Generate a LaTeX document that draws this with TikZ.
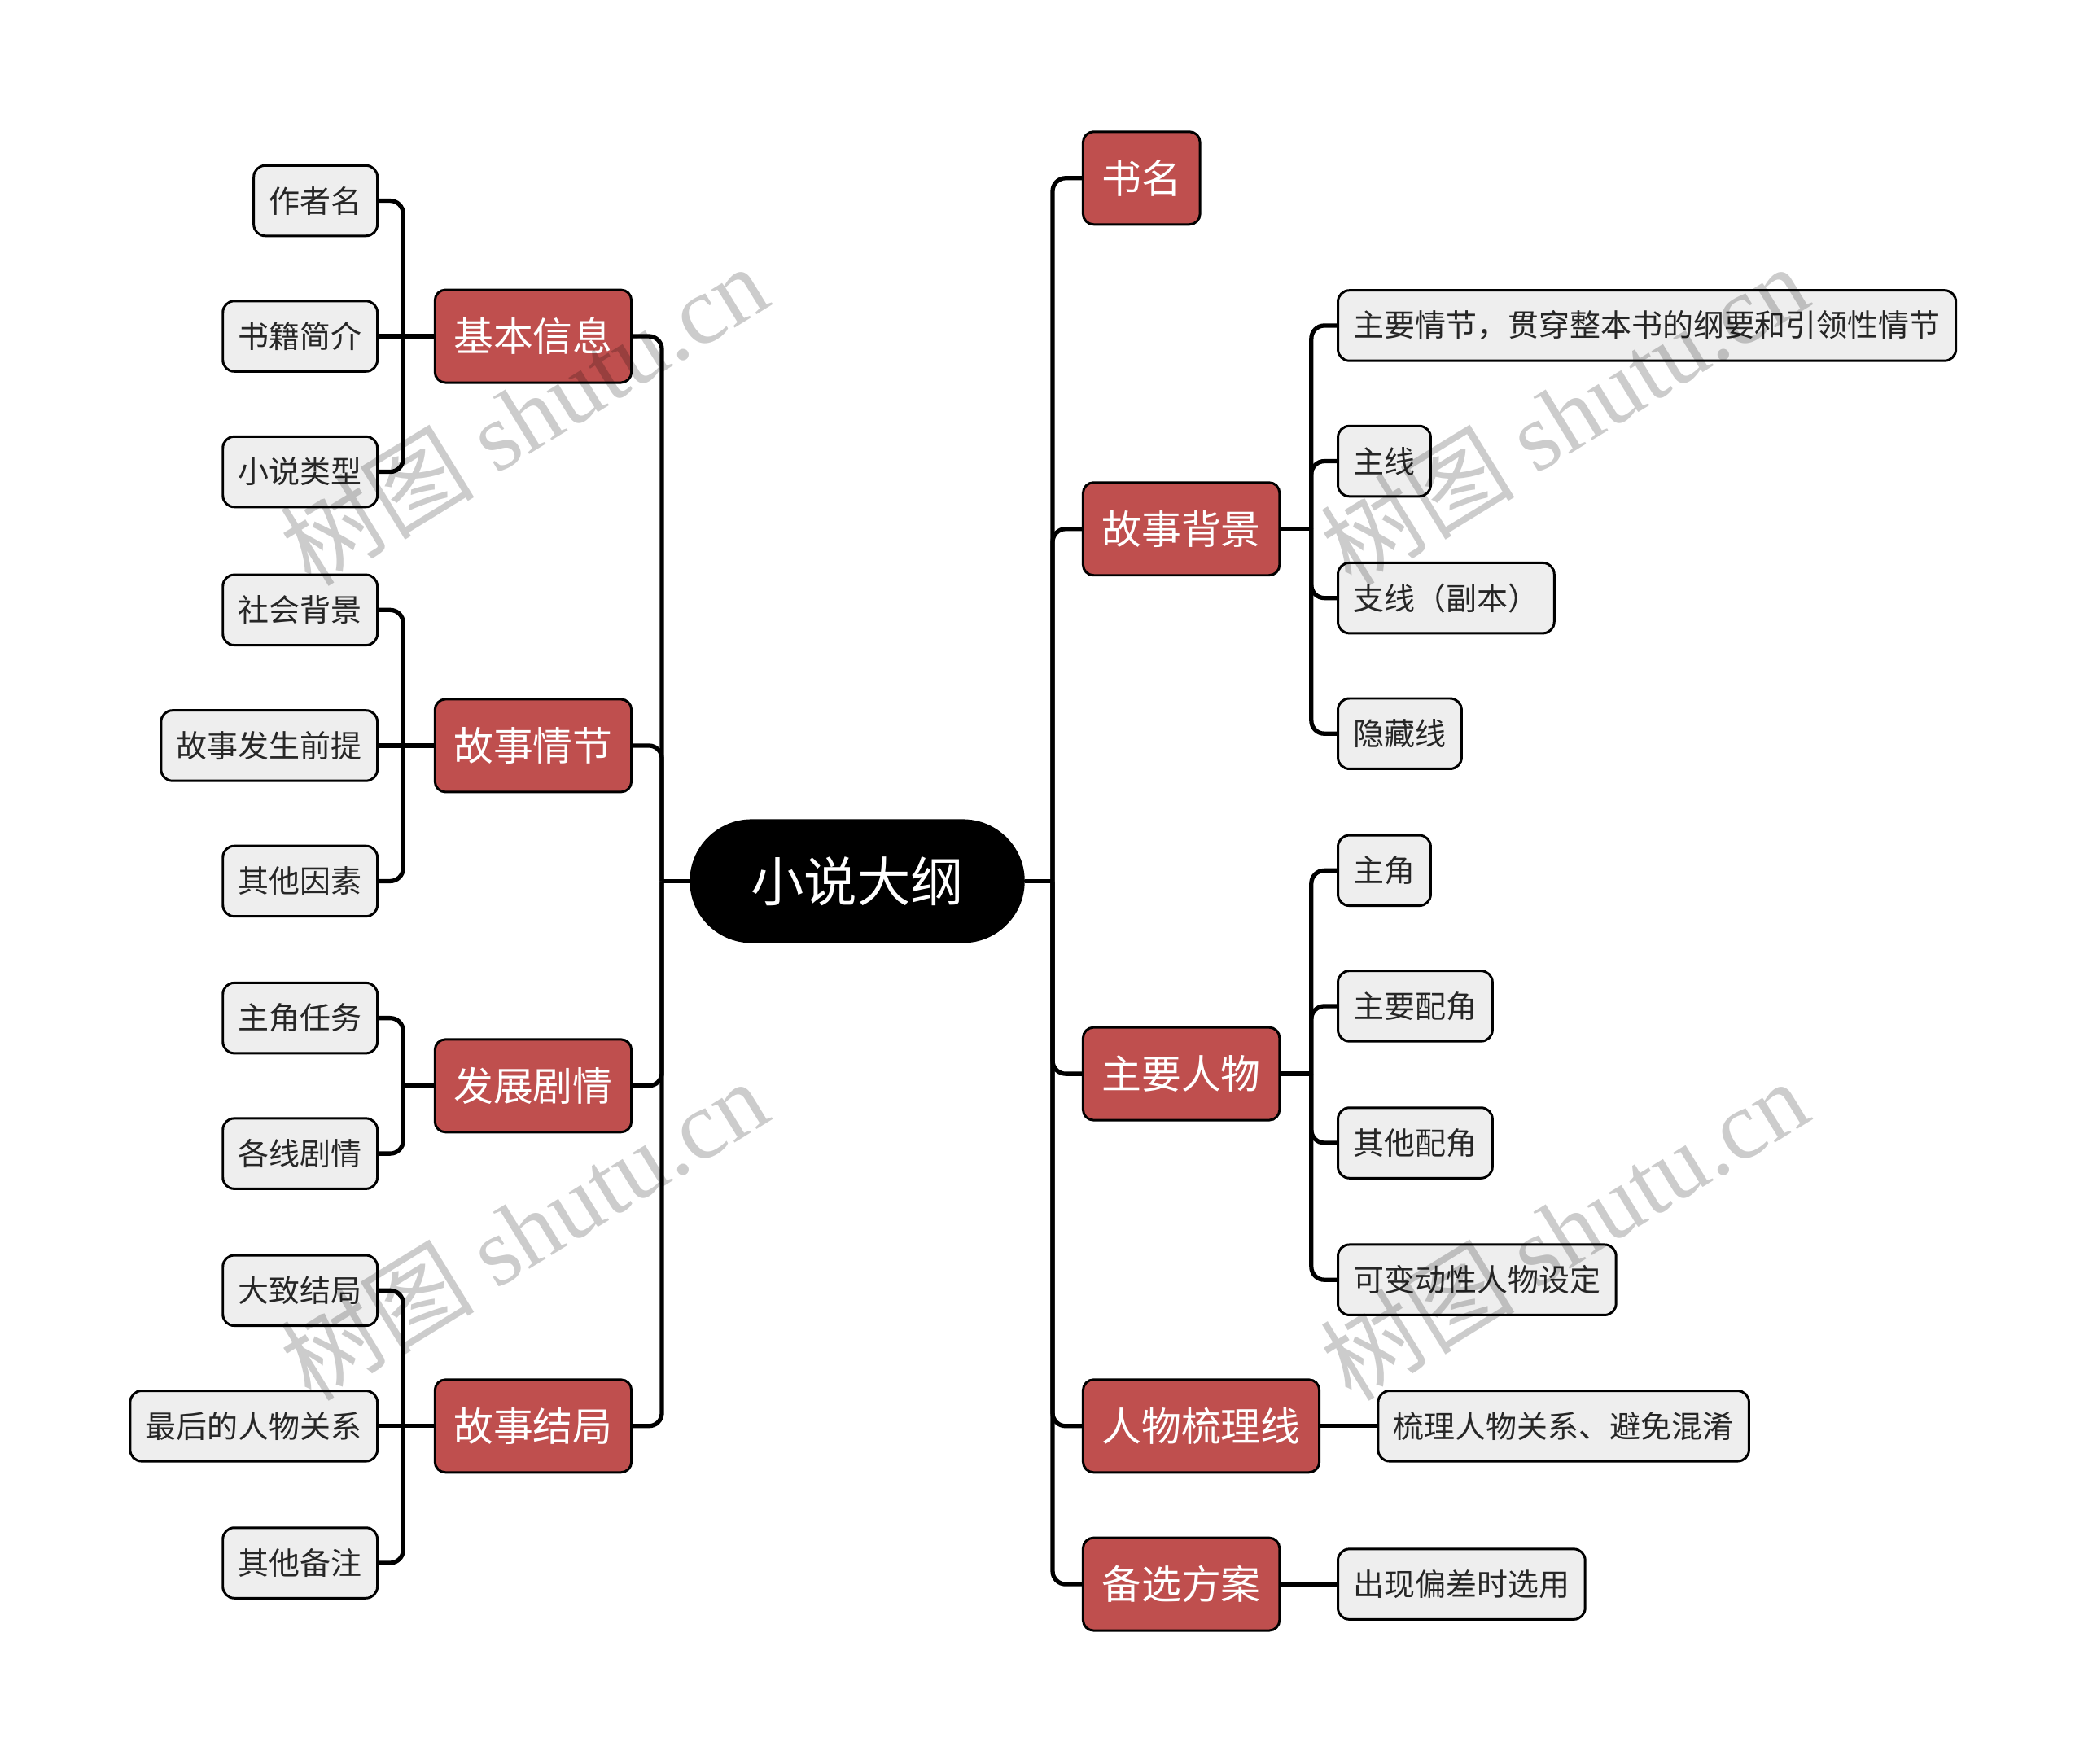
\documentclass[tikz,border=0pt]{standalone}
\usepackage{fontspec}
\setmainfont{Noto Sans CJK SC}
\newfontfamily\wmserif{Liberation Serif}
\usetikzlibrary{positioning,calc}
\definecolor{topicred}{HTML}{BF4F4E}
\definecolor{leafgray}{HTML}{EEEEEE}

\begin{document}
\begin{tikzpicture}[
  rootnode/.style={fill=black, text=white, rounded corners=0.76cm, minimum height=1.52cm, inner xsep=0.75cm, font=\fontsize{18.6pt}{22pt}\selectfont},
  topic/.style={draw=black, line width=0.85pt, fill=topicred, text=white, rounded corners=0.13cm, minimum height=1.14cm, inner xsep=0.23cm, font=\fontsize{13.9pt}{16pt}\selectfont},
  leaf/.style={draw=black, line width=0.85pt, fill=leafgray, text=black!85, rounded corners=0.14cm, minimum height=0.865cm, inner xsep=0.19cm, font=\fontsize{10.8pt}{13pt}\selectfont},
  link/.style={line width=1.5pt, rounded corners=0.16cm},
  wm/.style={text=black, text opacity=0.2, rotate=31.6, font=\fontsize{34pt}{40pt}\selectfont}
]
\useasboundingbox (-10.531,-10.841) rectangle (15.070,10.825);

% root
\node[rootnode] (root) at (0,0) {小说大纲};
\coordinate (lt) at (-2.40,0);
\coordinate (rt) at (2.40,0);

% left topics
\node[topic, anchor=east] (jbxx) at (-2.759,6.694) {基本信息};
\node[topic, anchor=east] (gsqj) at (-2.759,1.665) {故事情节};
\node[topic, anchor=east] (fzjq) at (-2.759,-2.514) {发展剧情};
\node[topic, anchor=east] (gsjj) at (-2.759,-6.694) {故事结局};

% right topics
\node[topic, anchor=west] (sm) at (2.759,8.637) {书名};
\node[topic, anchor=west] (gsbj) at (2.759,4.327) {故事背景};
\node[topic, anchor=west] (zyrw) at (2.759,-2.367) {主要人物};
\node[topic, anchor=west] (rwslx) at (2.759,-6.694) {人物梳理线};
\node[topic, anchor=west] (bxfa) at (2.759,-8.637) {备选方案};

% left leaves
\node[leaf, anchor=east] (a1) at (-5.88,8.359) {作者名};
\node[leaf, anchor=east] (a2) at (-5.88,6.694) {书籍简介};
\node[leaf, anchor=east] (a3) at (-5.88,5.029) {小说类型};
\node[leaf, anchor=east] (b1) at (-5.88,3.331) {社会背景};
\node[leaf, anchor=east] (b2) at (-5.88,1.665) {故事发生前提};
\node[leaf, anchor=east] (b3) at (-5.88,0) {其他因素};
\node[leaf, anchor=east] (c1) at (-5.88,-1.682) {主角任务};
\node[leaf, anchor=east] (c2) at (-5.88,-3.347) {各线剧情};
\node[leaf, anchor=east] (d1) at (-5.88,-5.029) {大致结局};
\node[leaf, anchor=east] (d2) at (-5.88,-6.694) {最后的人物关系};
\node[leaf, anchor=east] (d3) at (-5.88,-8.376) {其他备注};

% right leaves
\node[leaf, anchor=west] (e1) at (5.89,6.825) {主要情节，贯穿整本书的纲要和引领性情节};
\node[leaf, anchor=west] (e2) at (5.89,5.159) {主线};
\node[leaf, anchor=west] (e3) at (5.89,3.478) {支线（副本）};
\node[leaf, anchor=west] (e4) at (5.89,1.812) {隐藏线};
\node[leaf, anchor=west] (f1) at (5.89,0.131) {主角};
\node[leaf, anchor=west] (f2) at (5.89,-1.535) {主要配角};
\node[leaf, anchor=west] (f3) at (5.89,-3.216) {其他配角};
\node[leaf, anchor=west] (f4) at (5.89,-4.898) {可变动性人物设定};
\node[leaf, anchor=west] (g1) at (6.384,-6.694) {梳理人物关系、避免混淆};
\node[leaf, anchor=west] (h1) at (5.89,-8.637) {出现偏差时选用};

% root to topics
\draw[link] (root.west) -- (lt);
\draw[link] (root.east) -- (rt);
\draw[link] (lt) |- (jbxx.east);
\draw[link] (lt) |- (gsqj.east);
\draw[link] (lt) |- (fzjq.east);
\draw[link] (lt) |- (gsjj.east);
\draw[link] (rt) |- (sm.west);
\draw[link] (rt) |- (gsbj.west);
\draw[link] (rt) |- (zyrw.west);
\draw[link] (rt) |- (rwslx.west);
\draw[link] (rt) |- (bxfa.west);

% left topics to leaves
\coordinate (at) at ($(jbxx.west)+(-0.375,0)$);
\draw[link] (jbxx.west) -- (a2.east);
\draw[link] (at) |- (a1.east);
\draw[link] (at) |- (a3.east);

\coordinate (bt) at ($(gsqj.west)+(-0.375,0)$);
\draw[link] (gsqj.west) -- (b2.east);
\draw[link] (bt) |- (b1.east);
\draw[link] (bt) |- (b3.east);

\coordinate (ct) at ($(fzjq.west)+(-0.375,0)$);
\draw[link] (fzjq.west) -- (ct);
\draw[link] (ct) |- (c1.east);
\draw[link] (ct) |- (c2.east);

\coordinate (dt) at ($(gsjj.west)+(-0.375,0)$);
\draw[link] (gsjj.west) -- (d2.east);
\draw[link] (dt) |- (d1.east);
\draw[link] (dt) |- (d3.east);

% right topics to leaves
\coordinate (et) at ($(gsbj.east)+(0.375,0)$);
\draw[link] (gsbj.east) -- (et);
\draw[link] (et) |- (e1.west);
\draw[link] (et) |- (e2.west);
\draw[link] (et) |- (e3.west);
\draw[link] (et) |- (e4.west);

\coordinate (ft) at ($(zyrw.east)+(0.375,0)$);
\draw[link] (zyrw.east) -- (ft);
\draw[link] (ft) |- (f1.west);
\draw[link] (ft) |- (f2.west);
\draw[link] (ft) |- (f3.west);
\draw[link] (ft) |- (f4.west);

\draw[link] (rwslx.east) -- (g1.west);
\draw[link] (bxfa.east) -- (h1.west);

% watermarks
\node[wm] (wm1) at (-4.10,5.73) {树图 {\wmserif shutu.cn}};
\node[wm] (wm2) at (8.68,5.73) {树图 {\wmserif shutu.cn}};
\node[wm] (wm3) at (-4.10,-4.28) {树图 {\wmserif shutu.cn}};
\node[wm] (wm4) at (8.68,-4.28) {树图 {\wmserif shutu.cn}};

\end{tikzpicture}
\end{document}
